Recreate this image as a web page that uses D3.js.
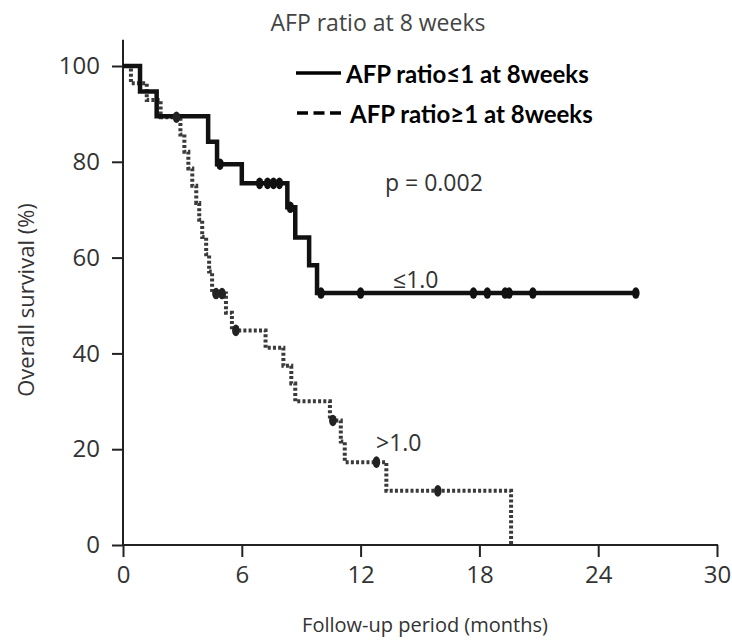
<!DOCTYPE html>
<html>
<head>
<meta charset="utf-8">
<script src="https://cdn.jsdelivr.net/npm/d3@7"></script>
<style>
  html, body { margin: 0; padding: 0; background: #fff; }
  svg { display: block; }
</style>
</head>
<body>
<div id="chart"></div>
<script>
// ---- Data ----
const chartTitle = "AFP ratio at 8 weeks";
const xTicks = [0, 6, 12, 18, 24, 30];
const yTicks = [0, 20, 40, 60, 80, 100];
const legendLabels = ["AFP ratio\u22641 at 8weeks", "AFP ratio\u22651 at 8weeks"];
const groupLabels = ["\u22641.0", ">1.0"];
const pValueText = "p = 0.002";

// AFP ratio <= 1.0 (solid): step times (months) and survival (%)
const lowTimes = [0, 0.86, 1.7, 4.3, 4.75, 6.0, 8.3, 8.7, 9.4, 9.8, 25.9];
const lowSurv  = [100, 94.7, 89.5, 84.2, 79.5, 75.5, 70.5, 64.2, 58.4, 52.6, 52.6];
const lowCensor = [4.9, 6.9, 7.3, 7.6, 7.9, 8.45, 10.0, 12.0, 17.7, 18.4, 19.3, 19.5, 20.7, 25.9];

// AFP ratio > 1.0 (dotted)
const highTimes = [0, 0.4, 1.2, 1.9, 2.9, 3.1, 3.3, 3.5, 3.7, 3.85, 4.0, 4.2, 4.35, 4.5, 5.2, 5.5, 7.2, 8.1, 8.5, 8.7, 10.45, 11.0, 11.2, 13.3, 19.6];
const highSurv  = [100, 96.4, 92.9, 89.3, 85.7, 82.1, 78.6, 75.0, 71.4, 67.9, 64.3, 60.7, 57.1, 52.5, 48.5, 44.8, 41.2, 37.4, 33.7, 30.0, 26.0, 21.6, 17.3, 11.3, 0];
const highCensor = [2.7, 4.7, 5.0, 5.7, 10.6, 12.8, 15.9];

// ---- Layout ----
const W = 732, H = 642;
const svg = d3.select("#chart").append("svg").attr("width", W).attr("height", H);

const x = d3.scaleLinear().domain([0, 30]).range([123, 717]);
const y = d3.scaleLinear().domain([0, 100]).range([545, 66]);

const axisColor = "#222";
const labelColor = "#333";
const font = "'Open Sans', 'Noto Sans', sans-serif";

// Title (top of glyphs clipped as in the reference)
svg.append("clipPath").attr("id", "titleClip").append("rect")
  .attr("x", 0).attr("y", 13).attr("width", W).attr("height", 40);
svg.append("text").attr("x", 378).attr("y", 31).attr("text-anchor", "middle")
  .attr("clip-path", "url(#titleClip)")
  .attr("font-family", font).attr("font-size", 23).attr("fill", "#444").text(chartTitle);

// Y axis
const yAxis = svg.append("g").attr("transform", `translate(${x(0)},0)`)
  .call(d3.axisLeft(y).tickValues(yTicks).tickSize(11).tickPadding(12));
yAxis.select(".domain").remove();
yAxis.selectAll(".tick line").attr("stroke", axisColor).attr("stroke-width", 2);
yAxis.selectAll(".tick text").attr("font-family", font).attr("font-size", 24).attr("fill", labelColor);
svg.append("line").attr("x1", x(0)).attr("x2", x(0)).attr("y1", y(0) + 1).attr("y2", y(105.5))
  .attr("stroke", axisColor).attr("stroke-width", 2);

// X axis
const xAxis = svg.append("g").attr("transform", `translate(0,${y(0)})`)
  .call(d3.axisBottom(x).tickValues(xTicks).tickSize(12).tickPadding(9));
xAxis.select(".domain").remove();
xAxis.selectAll(".tick line").attr("stroke", axisColor).attr("stroke-width", 2);
xAxis.selectAll(".tick text").attr("font-family", font).attr("font-size", 24).attr("fill", labelColor);
svg.append("line").attr("x1", x(0) - 1).attr("x2", x(30) + 1).attr("y1", y(0)).attr("y2", y(0))
  .attr("stroke", axisColor).attr("stroke-width", 2);

// Axis titles
svg.append("text").attr("transform", `translate(28,300) rotate(-90)`)
  .attr("text-anchor", "middle").attr("dominant-baseline", "middle")
  .attr("font-family", font).attr("font-size", 22).attr("fill", labelColor)
  .text("Overall survival (%)");
svg.append("text").attr("x", 425).attr("y", 632).attr("text-anchor", "middle")
  .attr("font-family", font).attr("font-size", 20).attr("fill", labelColor)
  .text("Follow-up period (months)");

// Curves
const line = d3.line().x(d => x(d[0])).y(d => y(d[1])).curve(d3.curveStepAfter);
const lowData = lowTimes.map((t, i) => [t, lowSurv[i]]);
const highData = highTimes.map((t, i) => [t, highSurv[i]]);

function survAt(times, surv, t) {
  let s = surv[0];
  for (let i = 0; i < times.length; i++) if (times[i] <= t) s = surv[i];
  return s;
}

svg.append("path").datum(highData).attr("d", line).attr("fill", "none")
  .attr("stroke", "#3a3a3a").attr("stroke-width", 4).attr("stroke-dasharray", "3,2.2");
svg.append("path").datum(lowData).attr("d", line).attr("fill", "none")
  .attr("stroke", "#111").attr("stroke-width", 4.5).attr("stroke-linejoin", "miter");

// Censor marks
svg.append("g").selectAll("ellipse").data(highCensor).join("ellipse")
  .attr("cx", d => x(d)).attr("cy", d => y(survAt(highTimes, highSurv, d)))
  .attr("rx", 3.8).attr("ry", 5.8).attr("fill", "#222");
svg.append("g").selectAll("ellipse").data(lowCensor).join("ellipse")
  .attr("cx", d => x(d)).attr("cy", d => y(survAt(lowTimes, lowSurv, d)))
  .attr("rx", 3.8).attr("ry", 5.8).attr("fill", "#111");

// Annotations
svg.append("text").attr("x", 385).attr("y", 191).attr("font-family", font)
  .attr("font-size", 23).attr("fill", labelColor).text(pValueText);
svg.append("text").attr("x", 393).attr("y", 288).attr("font-family", font)
  .attr("font-size", 23).attr("fill", labelColor).text(groupLabels[0]);
svg.append("text").attr("x", 376).attr("y", 451).attr("font-family", font)
  .attr("font-size", 23).attr("fill", labelColor).text(groupLabels[1]);

// Legend
const legendFont = "Lato, 'Open Sans', sans-serif";
const legY = [73, 113];
svg.append("line").attr("x1", 296).attr("x2", 341).attr("y1", legY[0]).attr("y2", legY[0])
  .attr("stroke", "#000").attr("stroke-width", 3.5);
svg.append("line").attr("x1", 297).attr("x2", 341).attr("y1", legY[1]).attr("y2", legY[1])
  .attr("stroke", "#000").attr("stroke-width", 3.5).attr("stroke-dasharray", "11,5.5");
svg.append("text").attr("x", 346).attr("y", legY[0]).attr("dominant-baseline", "central")
  .attr("font-family", legendFont).attr("font-weight", "bold").attr("font-size", 24)
  .attr("fill", "#000").text(legendLabels[0]);
svg.append("text").attr("x", 350).attr("y", legY[1]).attr("dominant-baseline", "central")
  .attr("font-family", legendFont).attr("font-weight", "bold").attr("font-size", 24)
  .attr("fill", "#000").text(legendLabels[1]);
</script>
</body>
</html>
